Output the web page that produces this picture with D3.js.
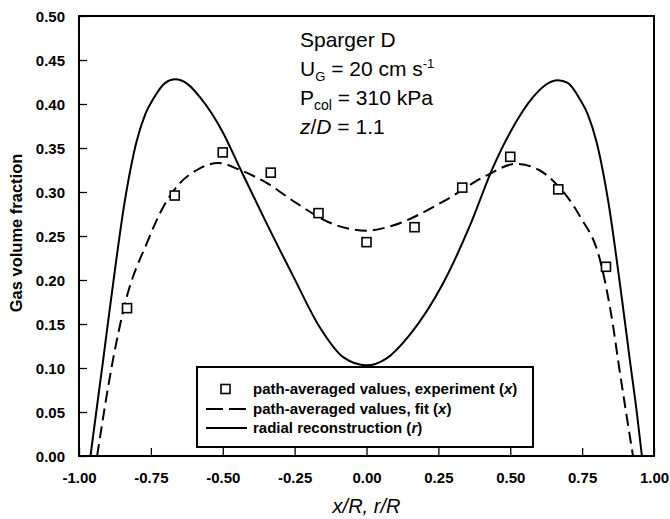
<!DOCTYPE html>
<html>
<head>
<meta charset="utf-8">
<title>Gas volume fraction</title>
<script src="https://d3js.org/d3.v7.min.js"></script>
<style>
  body { margin: 0; background: #fff; }
  text { font-family: "Liberation Sans", Arial, sans-serif; fill: #000; }
</style>
</head>
<body>
<div id="container"></div>
<script>

// experiment points (path-averaged, x)
const expX = [-0.833, -0.667, -0.5, -0.333, -0.167, 0, 0.167, 0.333, 0.5, 0.667, 0.833];
const expY = [0.168, 0.296, 0.345, 0.322, 0.276, 0.243, 0.260, 0.305, 0.340, 0.303, 0.215];

// fit curve (path-averaged, x)
const fitX = [-0.937, -0.882, -0.837, -0.764, -0.707, -0.649, -0.59, -0.516, -0.44, -0.346, -0.242, -0.127, 0,
              0.092, 0.266, 0.419, 0.52, 0.60, 0.663, 0.743, 0.812, 0.858, 0.875, 0.927];
const fitY = [0, 0.109, 0.177, 0.242, 0.283, 0.31, 0.325, 0.333, 0.325, 0.31, 0.287, 0.265, 0.256,
              0.262, 0.289, 0.319, 0.332, 0.325, 0.308, 0.272, 0.223, 0.147, 0.109, 0];

// radial reconstruction (r)
const radX = [-0.96, -0.94, -0.916, -0.889, -0.84, -0.80, -0.77, -0.743, -0.70, -0.666, -0.62, -0.58, -0.5, -0.44,
              -0.35, -0.256, -0.162, -0.08, 0, 0.07, 0.151, 0.266, 0.36, 0.44, 0.50, 0.58, 0.62, 0.666,
              0.70, 0.743, 0.77, 0.80, 0.84, 0.889, 0.916, 0.94, 0.958];
const radY = [0, 0.05, 0.109, 0.177, 0.291, 0.357, 0.388, 0.405, 0.424, 0.428, 0.422, 0.408, 0.368, 0.327,
              0.266, 0.205, 0.146, 0.112, 0.103, 0.111, 0.138, 0.196, 0.262, 0.328, 0.368, 0.408, 0.421, 0.427,
              0.424, 0.405, 0.388, 0.357, 0.291, 0.177, 0.109, 0.05, 0];

const xTicks = [-1, -0.75, -0.5, -0.25, 0, 0.25, 0.5, 0.75, 1];
const yTicks = [0, 0.05, 0.1, 0.15, 0.2, 0.25, 0.3, 0.35, 0.4, 0.45, 0.5];

const legendLabels = ["path-averaged values, experiment (", "path-averaged values, fit (", "radial reconstruction ("];
const legendVars = ["x", "x", "r"];

const width = 670,
      height = 519,
      margin = { top: 16, bottom: 63, left: 79, right: 16 };

const svg = d3.select("#container")
  .append("svg")
  .attr("width", width)
  .attr("height", height);

const x = d3.scaleLinear().domain([-1, 1]).range([margin.left, width - margin.right]);
const y = d3.scaleLinear().domain([0, 0.5]).range([height - margin.bottom, margin.top]);

svg.append("clipPath").attr("id", "clip")
  .append("rect")
  .attr("x", x(-1)).attr("y", y(0.5))
  .attr("width", x(1) - x(-1)).attr("height", y(0) - y(0.5));

// axes with inward ticks
const xAxis = svg.append("g")
  .attr("transform", `translate(0, ${y(0)})`)
  .call(d3.axisBottom(x).tickValues(xTicks).tickSize(-8).tickPadding(16).tickFormat(d3.format(".2f")));
const yAxis = svg.append("g")
  .attr("transform", `translate(${x(-1)}, 0)`)
  .call(d3.axisLeft(y).tickValues(yTicks).tickSize(-8).tickPadding(14).tickFormat(d3.format(".2f")));

[xAxis, yAxis].forEach(function(g) {
  g.select(".domain").remove();
  g.selectAll("line").attr("stroke", "#000").attr("stroke-width", 1.3);
  g.selectAll("text")
    .style("font-family", "'Liberation Sans', Arial, sans-serif")
    .style("font-size", "15px")
    .style("font-weight", "bold")
    .attr("fill", "#000");
});
xAxis.selectAll("text").text(d => d3.format(".2f")(d).replace("−", "-"));
yAxis.selectAll("text").attr("dy", "0.36em");

// frame
svg.append("rect")
  .attr("x", x(-1)).attr("y", y(0.5))
  .attr("width", x(1) - x(-1)).attr("height", y(0) - y(0.5))
  .attr("fill", "none").attr("stroke", "#000").attr("stroke-width", 2);

const plot = svg.append("g").attr("clip-path", "url(#clip)");

const line = d3.line()
  .x(d => x(d[0]))
  .y(d => y(d[1]))
  .curve(d3.curveMonotoneX);

plot.append("path")
  .datum(radX.map((v, i) => [v, radY[i]]))
  .attr("d", line)
  .attr("fill", "none").attr("stroke", "#000").attr("stroke-width", 2);

plot.append("path")
  .datum(fitX.map((v, i) => [v, fitY[i]]))
  .attr("d", line)
  .attr("fill", "none").attr("stroke", "#000").attr("stroke-width", 2)
  .attr("stroke-dasharray", "12,6");

plot.selectAll("rect.pt")
  .data(expX.map((v, i) => [v, expY[i]]))
  .enter()
  .append("rect")
  .attr("class", "pt")
  .attr("x", d => x(d[0]) - 4.5)
  .attr("y", d => y(d[1]) - 4.5)
  .attr("width", 9).attr("height", 9)
  .attr("fill", "#fff").attr("stroke", "#000").attr("stroke-width", 1.6);

// legend
const lg = svg.append("g");
lg.append("rect")
  .attr("x", 197).attr("y", 367).attr("width", 336).attr("height", 80)
  .attr("fill", "#fff").attr("stroke", "#000").attr("stroke-width", 2);

const rowY = [389, 409, 428];
lg.append("rect")
  .attr("x", 221).attr("y", rowY[0] - 4.5).attr("width", 9).attr("height", 9)
  .attr("fill", "#fff").attr("stroke", "#000").attr("stroke-width", 1.6);
lg.append("line")
  .attr("x1", 206).attr("x2", 247).attr("y1", rowY[1]).attr("y2", rowY[1])
  .attr("stroke", "#000").attr("stroke-width", 2).attr("stroke-dasharray", "17,6");
lg.append("line")
  .attr("x1", 206).attr("x2", 247).attr("y1", rowY[2]).attr("y2", rowY[2])
  .attr("stroke", "#000").attr("stroke-width", 2);

legendLabels.forEach(function(lab, i) {
  const t = lg.append("text")
    .attr("x", 253).attr("y", rowY[i] + 5)
    .style("font-size", "15px").style("font-weight", "bold");
  t.append("tspan").text(lab);
  t.append("tspan").style("font-style", "italic").text(legendVars[i]);
  t.append("tspan").text(")");
});

// annotation
const ann = svg.append("g").style("font-size", "21px");
ann.append("text").attr("x", 300).attr("y", 47).text("Sparger D");
const t2 = ann.append("text").attr("x", 300).attr("y", 76);
t2.append("tspan").text("U");
t2.append("tspan").attr("dy", 5).style("font-size", "13px").text("G");
t2.append("tspan").attr("dy", -5).text(" = 20 cm s");
t2.append("tspan").attr("dy", -8).style("font-size", "13px").text("-1");
const t3 = ann.append("text").attr("x", 300).attr("y", 105);
t3.append("tspan").text("P");
t3.append("tspan").attr("dy", 5).style("font-size", "14px").text("col");
t3.append("tspan").attr("dy", -5).text(" = 310 kPa");
const t4 = ann.append("text").attr("x", 300).attr("y", 134);
t4.append("tspan").style("font-style", "italic").text("z");
t4.append("tspan").text("/");
t4.append("tspan").style("font-style", "italic").text("D");
t4.append("tspan").text(" = 1.1");

// axis titles
svg.append("text")
  .attr("x", x(0)).attr("y", 513)
  .attr("text-anchor", "middle")
  .style("font-size", "20px").style("font-style", "italic")
  .text("x/R, r/R");

svg.append("text")
  .attr("transform", `translate(22, ${y(0.25) - 3}) rotate(-90)`)
  .attr("text-anchor", "middle")
  .style("font-size", "16.5px").style("font-weight", "bold")
  .text("Gas volume fraction");

</script>
</body>
</html>
